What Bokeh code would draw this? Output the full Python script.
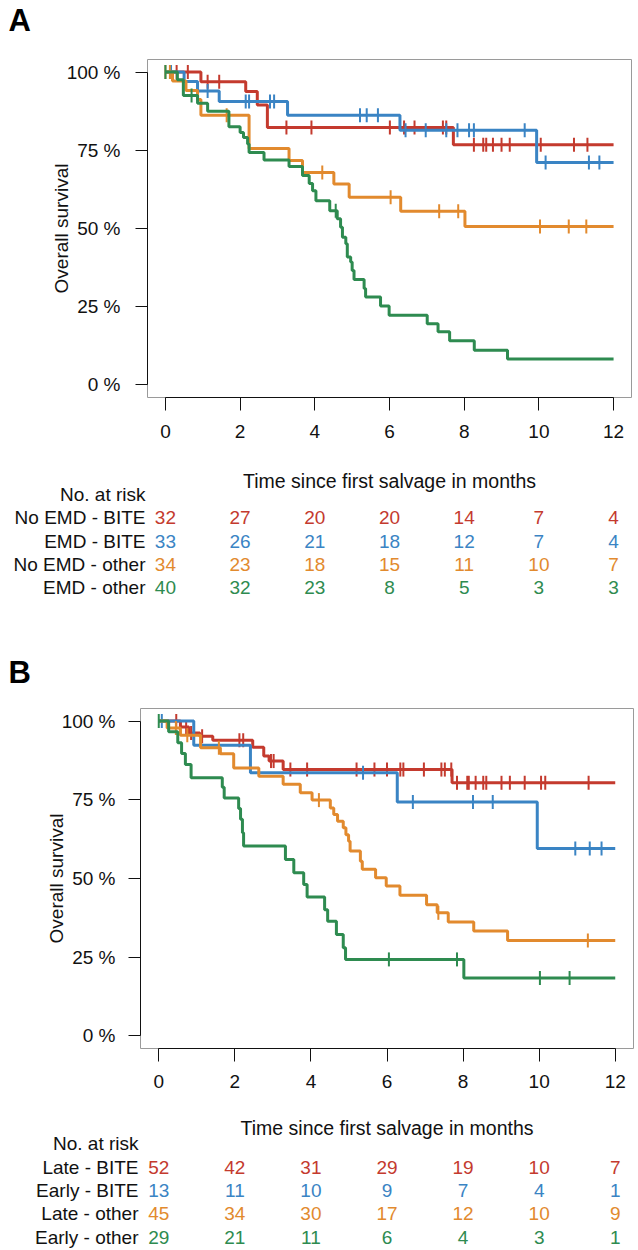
import numpy as np
from bokeh.plotting import figure
from bokeh.models import Range1d, FixedTicker, ColumnDataSource
from bokeh.embed import file_html
from bokeh.resources import INLINE
from bokeh.core.properties import value

FONT = "Liberation Sans"
FS = "19px"
GROUP_COLORS = ["#C43A2E", "#3A84C4", "#E28A2E", "#2E8B50"]

X_TICKS = [0, 2, 4, 6, 8, 10, 12]
Y_TICKS = [0, 25, 50, 75, 100]
Y_TICK_LABELS = ["0 %", "25 %", "50 %", "75 %", "100 %"]
RISK_TIMES = [0, 2, 4, 6, 8, 10, 12]
X_TITLE = "Time since first salvage in months"
Y_TITLE = "Overall survival"
RISK_HEADER = "No. at risk"

# ---------------- Panel A ----------------
A_GROUPS = ["No EMD - BITE", "EMD - BITE", "No EMD - other", "EMD - other"]

A_RED_T = [0, 0.95, 2.15, 2.46, 2.73, 7.71, 12]
A_RED_S = [100, 96.9, 93.8, 89.5, 82.3, 76.8, 76.8]
A_RED_CENS = [0.3, 0.6, 1.13, 1.44, 3.24, 3.91, 6.01, 6.39, 6.67, 7.43, 7.52,
              8.26, 8.51, 8.59, 8.77, 9.0, 9.22, 10.05, 10.94, 11.3]

A_BLUE_T = [0, 0.5, 0.86, 1.44, 3.27, 6.28, 9.94, 12]
A_BLUE_S = [100, 97.0, 93.9, 90.6, 86.2, 81.4, 71.1, 71.1]
A_BLUE_CENS = [0.15, 1.13, 2.15, 2.24, 2.80, 2.91, 5.21, 5.39, 5.69, 6.43, 6.97,
               7.52, 7.82, 8.13, 8.26, 9.62, 10.18, 11.34, 11.62]

A_ORANGE_T = [0, 0.19, 0.55, 0.86, 0.95, 2.24, 3.31, 3.67, 4.51, 4.92, 6.30, 8.02, 12]
A_ORANGE_S = [100, 97.1, 94.1, 91.2, 86.2, 75.6, 71.7, 67.9, 64.2, 60.0, 55.5, 50.6, 50.6]
A_ORANGE_CENS = [0.0, 0.12, 1.64, 4.2, 6.03, 7.33, 7.84, 10.03, 10.8, 11.27]

A_GREEN_T = [0, 0.32, 0.48, 0.86, 1.13, 1.70, 2.00, 2.09, 2.20, 2.24,
             2.64, 3.31, 3.67, 3.85, 3.94, 4.03, 4.40, 4.60, 4.69, 4.74,
             4.83, 4.87, 4.96, 5.00, 5.05, 5.32, 5.36, 5.76, 5.99, 7.01,
             7.30, 7.61, 8.27, 9.16, 12]
A_GREEN_S = [100, 97.5, 92.5, 90.0, 87.5, 82.5, 80.7, 79.1, 77.0, 74.3,
             71.9, 69.8, 66.9, 64.4, 62.1, 58.9, 55.7, 53.1, 50.4, 47.2,
             45.1, 40.9, 39.3, 36.6, 33.7, 30.8, 28.1, 25.2, 22.3, 19.6,
             17.0, 14.1, 11.1, 8.3, 8.3]
A_GREEN_CENS = [0.0, 0.7, 4.56]

A_RISK = [[32, 27, 20, 20, 14, 7, 4],
          [33, 26, 21, 18, 12, 7, 4],
          [34, 23, 18, 15, 11, 10, 7],
          [40, 32, 23, 8, 5, 3, 3]]

# ---------------- Panel B ----------------
B_GROUPS = ["Late - BITE", "Early - BITE", "Late - other", "Early - other"]

B_RED_T = [0, 0.57, 0.79, 1.08, 1.42, 2.47, 2.76, 2.90, 3.27, 7.71, 12]
B_RED_S = [100, 98.1, 96.2, 95.2, 93.9, 91.7, 88.9, 87.3, 84.6, 80.4, 80.4]
B_RED_CENS = [0.46, 0.72, 0.85, 1.14, 2.12, 2.22, 2.95, 3.02, 3.46, 3.90, 5.2,
              5.67, 6.0, 6.35, 6.43, 6.97, 7.43, 7.52, 7.69, 7.84, 8.11, 8.15,
              8.33, 8.53, 8.61, 9.01, 9.23, 9.62, 10.05, 10.16, 11.3]

B_BLUE_T = [0, 0.92, 2.41, 6.27, 9.95, 12]
B_BLUE_S = [100, 92.3, 83.6, 74.3, 59.5, 59.5]
B_BLUE_CENS = [0.08, 5.37, 6.68, 8.26, 8.78, 10.95, 11.33, 11.64]

B_ORANGE_T = [0, 0.22, 0.57, 1.10, 1.62, 1.97, 2.63, 3.27, 3.72, 4.03,
              4.51, 4.60, 4.70, 4.85, 4.92, 4.99, 5.03, 5.30, 5.35, 5.70,
              5.98, 6.34, 7.04, 7.32, 7.61, 8.28, 9.17, 12]
B_ORANGE_S = [100, 97.8, 95.5, 91.5, 89.6, 85.1, 82.5, 79.9, 77.2, 74.9,
              72.4, 70.3, 68.2, 66.1, 63.9, 61.8, 58.7, 55.5, 52.9, 50.2,
              47.6, 44.7, 41.7, 39.1, 36.2, 33.3, 30.3, 30.3]
B_ORANGE_CENS = [0.45, 0.75, 1.58, 4.21, 7.35, 11.28]

B_GREEN_T = [0, 0.26, 0.50, 0.60, 0.70, 0.85, 1.67, 1.72, 2.10, 2.15,
             2.20, 2.23, 3.33, 3.55, 3.81, 3.90, 4.36, 4.44, 4.67, 4.85,
             4.91, 8.02, 12]
B_GREEN_S = [100, 96.6, 93.1, 89.7, 86.2, 82.0, 79.0, 75.6, 72.2, 68.8,
             64.5, 60.3, 56.0, 51.8, 48.1, 44.1, 40.1, 36.4, 32.2, 28.0,
             24.3, 18.4, 18.4]
B_GREEN_CENS = [0.0, 6.05, 7.84, 10.02, 10.8]

B_RISK = [[52, 42, 31, 29, 19, 10, 7],
          [13, 11, 10, 9, 7, 4, 1],
          [45, 34, 30, 17, 12, 10, 9],
          [29, 21, 11, 6, 4, 3, 1]]

FIG_W = 637


def surv_at(t, s, c):
    t = np.asarray(t, dtype=float)
    s = np.asarray(s, dtype=float)
    idx = np.searchsorted(t, np.asarray(c, dtype=float), side="right") - 1
    return s[idx]


def style_axis(ax, tick_out, standoff):
    ax.major_label_text_font = FONT
    ax.major_label_text_font_size = FS
    ax.major_label_text_color = "#111111"
    ax.axis_line_color = "#111111"
    ax.major_tick_line_color = "#111111"
    ax.major_tick_out = tick_out
    ax.major_tick_in = 0
    ax.minor_tick_line_color = None
    ax.major_label_standoff = standoff


def letter_plot(letter, height, lx, ly):
    p = figure(width=FIG_W, height=height, x_range=Range1d(0, FIG_W),
               y_range=Range1d(height, 0), title=None, toolbar_location=None,
               output_backend="svg", x_axis_type=None, y_axis_type=None,
               min_border_left=0, min_border_right=0,
               min_border_top=0, min_border_bottom=0)
    p.grid.visible = False
    p.outline_line_color = None
    p.text(x=[lx], y=[ly], text=[letter], text_font=value(FONT),
           text_font_style="bold", text_font_size="31px", text_color="#000000",
           text_align="left", text_baseline="middle")
    return p


def km_plot(curves, x_range, y_range, height, b_left, b_right, b_top, b_bottom,
            ytick_standoff, ylab_standoff, xtick_standoff):
    p = figure(width=FIG_W, height=height, x_range=x_range, y_range=y_range,
               title=None, toolbar_location=None, output_backend="svg",
               min_border_left=b_left, min_border_right=b_right,
               min_border_top=b_top, min_border_bottom=b_bottom)
    p.grid.visible = False
    p.outline_line_color = "#9a9a9a"
    p.outline_line_width = 1
    for (t, s, c), col in zip(curves, GROUP_COLORS):
        p.step(t, s, mode="after", line_width=3, line_color=col)
        p.scatter(c, surv_at(t, s, c), marker="dash", angle=np.pi / 2, size=14,
                  line_width=2, line_color=col)
    xa = p.xaxis[0]
    xa.ticker = FixedTicker(ticks=X_TICKS)
    xa.bounds = (X_TICKS[0], X_TICKS[-1])
    style_axis(xa, 13, xtick_standoff)
    ya = p.yaxis[0]
    ya.ticker = FixedTicker(ticks=Y_TICKS)
    ya.bounds = (Y_TICKS[0], Y_TICKS[-1])
    ya.major_label_overrides = dict(zip(Y_TICKS, Y_TICK_LABELS))
    style_axis(ya, 12, ytick_standoff)
    ya.axis_label = Y_TITLE
    ya.axis_label_text_font = FONT
    ya.axis_label_text_font_size = FS
    ya.axis_label_text_font_style = "normal"
    ya.axis_label_text_color = "#111111"
    ya.axis_label_standoff = ylab_standoff
    return p


def risk_plot(groups, risk, x_range, y_range, height, b_left, b_right, title_row):
    p = figure(width=FIG_W, height=height, x_range=x_range, y_range=y_range,
               title=None, toolbar_location=None, output_backend="svg",
               x_axis_type=None, min_border_left=b_left, min_border_right=b_right,
               min_border_top=0, min_border_bottom=0)
    p.grid.visible = False
    p.outline_line_color = None
    ya = p.yaxis[0]
    ya.ticker = FixedTicker(ticks=[0, 1, 2, 3, 4])
    labels = {0: RISK_HEADER}
    for i, g in enumerate(groups):
        labels[i + 1] = g
    ya.major_label_overrides = labels
    ya.major_label_text_font = FONT
    ya.major_label_text_font_size = FS
    ya.major_label_text_color = "#111111"
    ya.axis_line_color = None
    ya.major_tick_line_color = None
    ya.minor_tick_line_color = None
    ya.major_tick_out = 0
    ya.major_tick_in = 0
    ya.major_label_standoff = 2
    xs, ys, txt, cols = [], [], [], []
    for i, (row, col) in enumerate(zip(risk, GROUP_COLORS)):
        for t, n in zip(RISK_TIMES, row):
            xs.append(t)
            ys.append(i + 1)
            txt.append(str(n))
            cols.append(col)
    src = ColumnDataSource(dict(x=xs, y=ys, text=txt, color=cols))
    p.text(x="x", y="y", text="text", text_color="color", source=src,
           text_font=value(FONT), text_font_size=FS,
           text_align="center", text_baseline="middle")
    p.text(x=[(X_TICKS[0] + X_TICKS[-1]) / 2], y=[title_row], text=[X_TITLE],
           text_font=value(FONT), text_font_size="19.5px", text_color="#111111",
           text_align="center", text_baseline="middle")
    return p


a_x = Range1d(-0.48, 12.48)
a_y = Range1d(-4, 104)
b_x = Range1d(-0.48, 12.48)
b_y = Range1d(-4, 104)

a_curves = [(A_RED_T, A_RED_S, A_RED_CENS), (A_BLUE_T, A_BLUE_S, A_BLUE_CENS),
            (A_ORANGE_T, A_ORANGE_S, A_ORANGE_CENS), (A_GREEN_T, A_GREEN_S, A_GREEN_CENS)]
b_curves = [(B_RED_T, B_RED_S, B_RED_CENS), (B_BLUE_T, B_BLUE_S, B_BLUE_CENS),
            (B_ORANGE_T, B_ORANGE_S, B_ORANGE_CENS), (B_GREEN_T, B_GREEN_S, B_GREEN_CENS)]

lA = letter_plot("A", 40, 8, 20)
pA = km_plot(a_curves, a_x, a_y, 405, 147, 6, 19, 48, 15, -8, 14)
rA = risk_plot(A_GROUPS, A_RISK, a_x, Range1d(4.774, -2.108), 160, 147, 6, -0.60)
lB = letter_plot("B", 85, 8, 67)
pB = km_plot(b_curves, b_x, b_y, 405, 140, 4, 18, 47, 13, -8, 13)
rB = risk_plot(B_GROUPS, B_RISK, b_x, Range1d(4.511, -2.043), 154, 140, 4, -0.64)

roots = [lA, pA, rA, lB, pB, rB]
open("out.html", "w").write(file_html(roots, INLINE))
